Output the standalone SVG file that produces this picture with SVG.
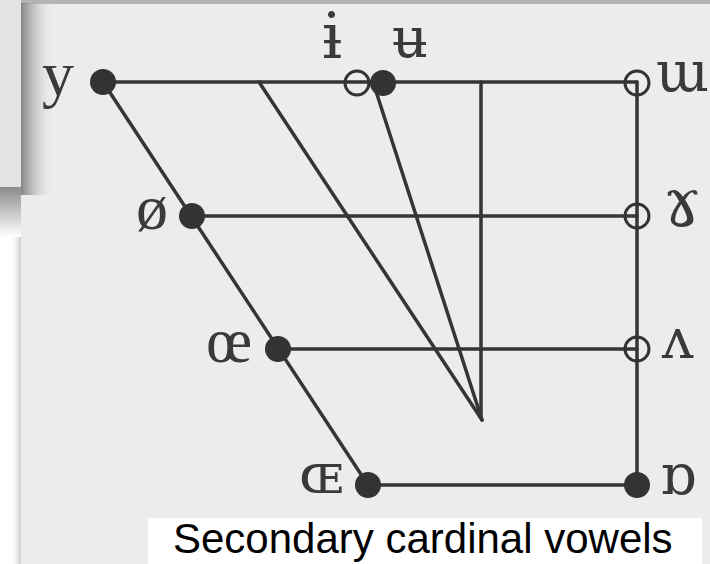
<svg xmlns="http://www.w3.org/2000/svg" width="710" height="564" viewBox="0 0 710 564">
  <defs>
    <linearGradient id="shR" x1="0" y1="0" x2="1" y2="0">
      <stop offset="0" stop-color="#7a7a7a" stop-opacity="0.9"/>
      <stop offset="1" stop-color="#ececec" stop-opacity="0"/>
    </linearGradient>
    <linearGradient id="shB" x1="0" y1="0" x2="0" y2="1">
      <stop offset="0" stop-color="#8c8c8c"/>
      <stop offset="1" stop-color="#ffffff"/>
    </linearGradient>
    <linearGradient id="shL" x1="0" y1="0" x2="1" y2="0">
      <stop offset="0" stop-color="#ffffff" stop-opacity="0"/>
      <stop offset="1" stop-color="#bdbdbd" stop-opacity="0.8"/>
    </linearGradient>
  </defs>
  <style>
    .ln { stroke: #353535; stroke-width: 3.5; fill: none; stroke-linecap: round; }
    .dot { fill: #333333; }
    .ring { fill: none; stroke: #333333; stroke-width: 3; }
    .ipa { font-family: "Liberation Serif", "DejaVu Serif", serif; font-size: 64px; fill: #3a3a3a; }
    .ipx { font-family: "DejaVu Serif", "Liberation Serif", serif; font-size: 56px; fill: #3a3a3a; }
    .cap { font-family: "Liberation Sans", Arial, sans-serif; font-size: 42px; fill: #000000; }
  </style>

  <!-- page background -->
  <rect x="0" y="0" width="710" height="564" fill="#ececec"/>
  <rect x="21" y="0" width="689" height="4" fill="#b4b4b4"/>
  <rect x="21" y="3" width="34" height="192" fill="url(#shR)"/>
  <rect x="0" y="0" width="21" height="187" fill="#e3e3e3"/>
  <rect x="0" y="187" width="21" height="377" fill="#ffffff"/>
  <rect x="0" y="187" width="21" height="50" fill="url(#shB)"/>
  <rect x="10" y="237" width="11" height="327" fill="url(#shL)"/>

  <g id="connectors">
    <line class="ln" x1="103" y1="82" x2="637" y2="82"/>
    <line class="ln" x1="192" y1="216" x2="637" y2="216"/>
    <line class="ln" x1="278" y1="349" x2="637" y2="349"/>
    <line class="ln" x1="368" y1="485" x2="637" y2="485"/>
    <line class="ln" x1="103" y1="82" x2="368" y2="485"/>
    <line class="ln" x1="637" y1="82" x2="637" y2="485"/>
    <line class="ln" x1="259" y1="82" x2="482" y2="420"/>
    <line class="ln" x1="373" y1="82" x2="482" y2="420"/>
    <line class="ln" x1="481" y1="82" x2="481" y2="418"/>
  </g>

  <g id="v-y">
    <circle class="dot" cx="103" cy="82" r="13"/>
    <text class="ipa" x="42" y="95">y</text>
  </g>
  <g id="v-i-bar">
    <circle class="ring" cx="357" cy="83" r="12"/>
    <text class="ipx" x="332" y="58" text-anchor="middle" style="font-size:64px">ɨ</text>
  </g>
  <g id="v-u-bar">
    <circle class="dot" cx="383" cy="83" r="13"/>
    <text class="ipx" x="410" y="57" text-anchor="middle">ʉ</text>
  </g>
  <g id="v-turned-m">
    <circle class="ring" cx="637" cy="83" r="12"/>
    <text class="ipx" x="656" y="91">ɯ</text>
  </g>
  <g id="v-o-slash">
    <circle class="dot" cx="192" cy="216" r="13"/>
    <text class="ipa" x="136" y="229">ø</text>
  </g>
  <g id="v-rams-horn">
    <circle class="ring" cx="637" cy="216" r="12"/>
    <text class="ipx" x="663" y="226" style="font-size:68px">ɤ</text>
  </g>
  <g id="v-oe">
    <circle class="dot" cx="278" cy="349" r="13"/>
    <text class="ipa" x="206" y="362">œ</text>
  </g>
  <g id="v-turned-v">
    <circle class="ring" cx="637" cy="349" r="12"/>
    <text class="ipx" x="662" y="358">ʌ</text>
  </g>
  <g id="v-small-oe">
    <circle class="dot" cx="368" cy="485" r="13"/>
    <text class="ipx" x="299" y="493">ɶ</text>
  </g>
  <g id="v-turned-alpha">
    <circle class="dot" cx="637" cy="485" r="13"/>
    <text class="ipx" x="660" y="494">ɒ</text>
  </g>

  <g id="caption">
    <rect x="148" y="518" width="554" height="46" fill="#ffffff"/>
    <text class="cap" x="173" y="553">Secondary cardinal vowels</text>
  </g>
</svg>
